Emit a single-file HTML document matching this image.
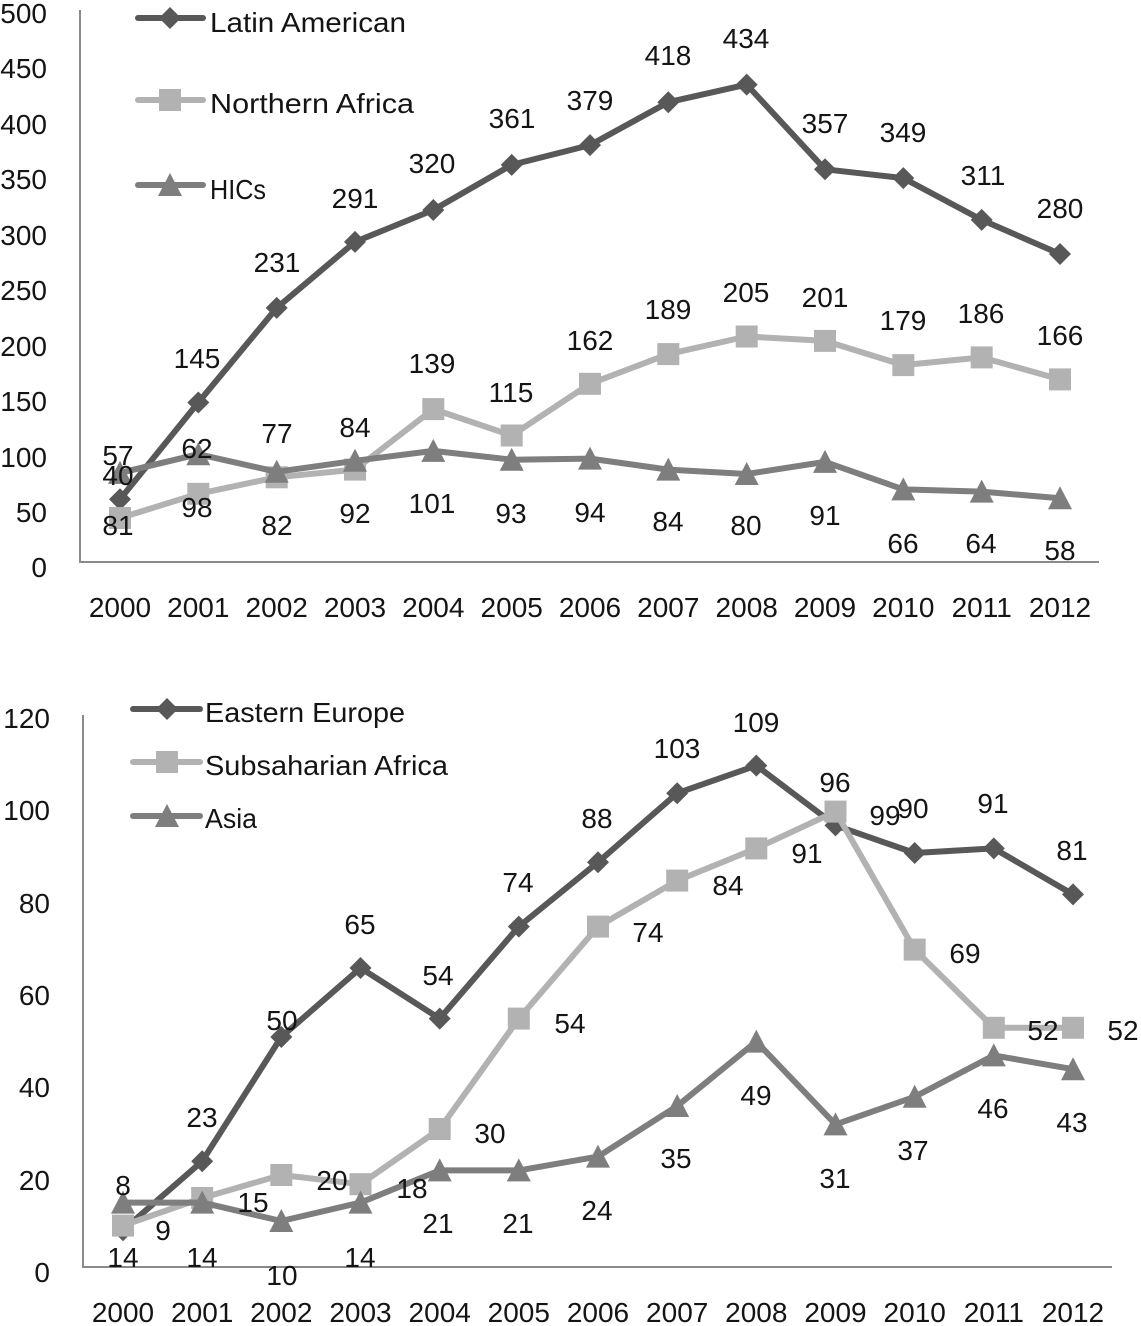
<!DOCTYPE html>
<html>
<head>
<meta charset="utf-8">
<style>
html,body{margin:0;padding:0;background:#fff;}
svg{display:block;}
text{font-family:"Liberation Sans",Arial,sans-serif;font-size:28px;fill:#141414;}
.c{text-anchor:middle;}
.r{text-anchor:end;}
</style>
</head>
<body>
<svg width="1141" height="1326" viewBox="0 0 1141 1326" xmlns="http://www.w3.org/2000/svg">
<defs>
<path id="dia" d="M0,-11 L11,0 L0,11 L-11,0Z"/>
<rect id="sq" x="-11" y="-11" width="22" height="22"/>
<path id="tri" d="M0,-12 L12,11 L-12,11Z"/>
</defs>

<!-- ================= TOP CHART ================= -->
<g stroke="#8a8a8a" stroke-width="2" fill="none">
<line x1="80" y1="10" x2="80" y2="562"/>
<line x1="79" y1="562" x2="1099" y2="562"/>
</g>
<g class="r">
<text class="r" x="47" y="23">500</text>
<text class="r" x="47" y="78">450</text>
<text class="r" x="47" y="134">400</text>
<text class="r" x="47" y="189">350</text>
<text class="r" x="47" y="245">300</text>
<text class="r" x="47" y="300">250</text>
<text class="r" x="47" y="356">200</text>
<text class="r" x="47" y="411">150</text>
<text class="r" x="47" y="467">100</text>
<text class="r" x="47" y="522">50</text>
<text class="r" x="47" y="577">0</text>
</g>
<g>
<text class="c" x="120" y="617">2000</text>
<text class="c" x="198.3" y="617">2001</text>
<text class="c" x="276.7" y="617">2002</text>
<text class="c" x="355" y="617">2003</text>
<text class="c" x="433.3" y="617">2004</text>
<text class="c" x="511.7" y="617">2005</text>
<text class="c" x="590" y="617">2006</text>
<text class="c" x="668.3" y="617">2007</text>
<text class="c" x="746.7" y="617">2008</text>
<text class="c" x="825" y="617">2009</text>
<text class="c" x="903.3" y="617">2010</text>
<text class="c" x="981.7" y="617">2011</text>
<text class="c" x="1060" y="617">2012</text>
</g>

<!-- Latin American -->
<polyline fill="none" stroke="#585858" stroke-width="6" stroke-linejoin="round" points="120,499.3 198.3,402.5 276.7,307.9 355,241.9 433.3,210 511.7,164.9 590,145.1 668.3,102.2 746.7,84.6 825,169.3 903.3,178.1 981.7,219.9 1060,254"/>
<g fill="#585858">
<use href="#dia" x="120" y="499.3"/><use href="#dia" x="198.3" y="402.5"/><use href="#dia" x="276.7" y="307.9"/><use href="#dia" x="355" y="241.9"/><use href="#dia" x="433.3" y="210"/><use href="#dia" x="511.7" y="164.9"/><use href="#dia" x="590" y="145.1"/><use href="#dia" x="668.3" y="102.2"/><use href="#dia" x="746.7" y="84.6"/><use href="#dia" x="825" y="169.3"/><use href="#dia" x="903.3" y="178.1"/><use href="#dia" x="981.7" y="219.9"/><use href="#dia" x="1060" y="254"/>
</g>
<!-- Northern Africa -->
<polyline fill="none" stroke="#b2b2b2" stroke-width="6" stroke-linejoin="round" points="120,518 198.3,493.8 276.7,477.3 355,469.6 433.3,409.1 511.7,435.5 590,383.8 668.3,354.1 746.7,336.5 825,340.9 903.3,365.1 981.7,357.4 1060,379.4"/>
<g fill="#b2b2b2">
<use href="#sq" x="120" y="518"/><use href="#sq" x="198.3" y="493.8"/><use href="#sq" x="276.7" y="477.3"/><use href="#sq" x="355" y="469.6"/><use href="#sq" x="433.3" y="409.1"/><use href="#sq" x="511.7" y="435.5"/><use href="#sq" x="590" y="383.8"/><use href="#sq" x="668.3" y="354.1"/><use href="#sq" x="746.7" y="336.5"/><use href="#sq" x="825" y="340.9"/><use href="#sq" x="903.3" y="365.1"/><use href="#sq" x="981.7" y="357.4"/><use href="#sq" x="1060" y="379.4"/>
</g>
<!-- HICs -->
<polyline fill="none" stroke="#7e7e7e" stroke-width="6" stroke-linejoin="round" points="120,472.9 198.3,454.2 276.7,471.8 355,460.8 433.3,450.9 511.7,459.7 590,458.6 668.3,469.6 746.7,474 825,461.9 903.3,489.4 981.7,491.6 1060,498.2"/>
<g fill="#7e7e7e">
<use href="#tri" x="120" y="472.9"/><use href="#tri" x="198.3" y="454.2"/><use href="#tri" x="276.7" y="471.8"/><use href="#tri" x="355" y="460.8"/><use href="#tri" x="433.3" y="450.9"/><use href="#tri" x="511.7" y="459.7"/><use href="#tri" x="590" y="458.6"/><use href="#tri" x="668.3" y="469.6"/><use href="#tri" x="746.7" y="474"/><use href="#tri" x="825" y="461.9"/><use href="#tri" x="903.3" y="489.4"/><use href="#tri" x="981.7" y="491.6"/><use href="#tri" x="1060" y="498.2"/>
</g>

<!-- top data labels -->
<g>
<text class="c" x="118" y="465">57</text>
<text class="c" x="197" y="368">145</text>
<text class="c" x="277" y="272">231</text>
<text class="c" x="355" y="208">291</text>
<text class="c" x="432" y="173">320</text>
<text class="c" x="512" y="128">361</text>
<text class="c" x="590" y="110">379</text>
<text class="c" x="668" y="65">418</text>
<text class="c" x="746" y="48">434</text>
<text class="c" x="825" y="133">357</text>
<text class="c" x="903" y="142">349</text>
<text class="c" x="983" y="185">311</text>
<text class="c" x="1060" y="218">280</text>

<text class="c" x="118" y="485">40</text>
<text class="c" x="197" y="458">62</text>
<text class="c" x="277" y="443">77</text>
<text class="c" x="355" y="437">84</text>
<text class="c" x="432" y="373">139</text>
<text class="c" x="511" y="402">115</text>
<text class="c" x="590" y="350">162</text>
<text class="c" x="668" y="319">189</text>
<text class="c" x="746" y="302">205</text>
<text class="c" x="825" y="307">201</text>
<text class="c" x="903" y="330">179</text>
<text class="c" x="981" y="323">186</text>
<text class="c" x="1060" y="345">166</text>

<text class="c" x="118" y="535">81</text>
<text class="c" x="197" y="517">98</text>
<text class="c" x="277" y="535">82</text>
<text class="c" x="355" y="523">92</text>
<text class="c" x="432" y="513">101</text>
<text class="c" x="511" y="523">93</text>
<text class="c" x="590" y="522">94</text>
<text class="c" x="668" y="531">84</text>
<text class="c" x="746" y="535">80</text>
<text class="c" x="825" y="525">91</text>
<text class="c" x="903" y="553">66</text>
<text class="c" x="981" y="553">64</text>
<text class="c" x="1060" y="560">58</text>
</g>

<!-- top legend -->
<line x1="138" y1="18" x2="203" y2="18" stroke="#585858" stroke-width="6" stroke-linecap="round"/>
<use href="#dia" x="170" y="18" fill="#585858"/>
<text x="210" y="32" textLength="196" lengthAdjust="spacingAndGlyphs">Latin American</text>
<line x1="138" y1="100" x2="203" y2="100" stroke="#b2b2b2" stroke-width="6" stroke-linecap="round"/>
<use href="#sq" x="170" y="100" fill="#b2b2b2"/>
<text x="210" y="113" textLength="204" lengthAdjust="spacingAndGlyphs">Northern Africa</text>
<line x1="138" y1="185" x2="203" y2="185" stroke="#7e7e7e" stroke-width="6" stroke-linecap="round"/>
<use href="#tri" x="170" y="185" fill="#7e7e7e"/>
<text x="210" y="199" textLength="56" lengthAdjust="spacingAndGlyphs">HICs</text>

<!-- ================= BOTTOM CHART ================= -->
<g stroke="#8a8a8a" stroke-width="2" fill="none">
<line x1="83" y1="715" x2="83" y2="1267"/>
<line x1="82" y1="1267" x2="1112" y2="1267"/>
</g>
<g>
<text class="r" x="50" y="728">120</text>
<text class="r" x="50" y="820">100</text>
<text class="r" x="50" y="913">80</text>
<text class="r" x="50" y="1005">60</text>
<text class="r" x="50" y="1097">40</text>
<text class="r" x="50" y="1190">20</text>
<text class="r" x="50" y="1282">0</text>
</g>
<g>
<text class="c" x="123" y="1322">2000</text>
<text class="c" x="202.2" y="1322">2001</text>
<text class="c" x="281.3" y="1322">2002</text>
<text class="c" x="360.5" y="1322">2003</text>
<text class="c" x="439.7" y="1322">2004</text>
<text class="c" x="518.8" y="1322">2005</text>
<text class="c" x="598" y="1322">2006</text>
<text class="c" x="677.2" y="1322">2007</text>
<text class="c" x="756.3" y="1322">2008</text>
<text class="c" x="835.5" y="1322">2009</text>
<text class="c" x="914.7" y="1322">2010</text>
<text class="c" x="993.8" y="1322">2011</text>
<text class="c" x="1073" y="1322">2012</text>
</g>

<!-- Eastern Europe -->
<polyline fill="none" stroke="#585858" stroke-width="6" stroke-linejoin="round" points="123,1230.2 202.2,1161.2 281.3,1037 360.5,968 439.7,1018.6 518.8,926.6 598,862.2 677.2,793.2 756.3,765.6 835.5,825.4 914.7,853 993.8,848.4 1073,894.4"/>
<g fill="#585858">
<use href="#dia" x="123" y="1230.2"/><use href="#dia" x="202.2" y="1161.2"/><use href="#dia" x="281.3" y="1037"/><use href="#dia" x="360.5" y="968"/><use href="#dia" x="439.7" y="1018.6"/><use href="#dia" x="518.8" y="926.6"/><use href="#dia" x="598" y="862.2"/><use href="#dia" x="677.2" y="793.2"/><use href="#dia" x="756.3" y="765.6"/><use href="#dia" x="835.5" y="825.4"/><use href="#dia" x="914.7" y="853"/><use href="#dia" x="993.8" y="848.4"/><use href="#dia" x="1073" y="894.4"/>
</g>
<!-- Subsaharian Africa -->
<polyline fill="none" stroke="#b2b2b2" stroke-width="6" stroke-linejoin="round" points="123,1225.6 202.2,1198 281.3,1175 360.5,1184.2 439.7,1129 518.8,1018.6 598,926.6 677.2,880.6 756.3,848.4 835.5,811.6 914.7,949.6 993.8,1027.8 1073,1027.8"/>
<g fill="#b2b2b2">
<use href="#sq" x="123" y="1225.6"/><use href="#sq" x="202.2" y="1198"/><use href="#sq" x="281.3" y="1175"/><use href="#sq" x="360.5" y="1184.2"/><use href="#sq" x="439.7" y="1129"/><use href="#sq" x="518.8" y="1018.6"/><use href="#sq" x="598" y="926.6"/><use href="#sq" x="677.2" y="880.6"/><use href="#sq" x="756.3" y="848.4"/><use href="#sq" x="835.5" y="811.6"/><use href="#sq" x="914.7" y="949.6"/><use href="#sq" x="993.8" y="1027.8"/><use href="#sq" x="1073" y="1027.8"/>
</g>
<!-- Asia -->
<polyline fill="none" stroke="#7e7e7e" stroke-width="6" stroke-linejoin="round" points="123,1202.6 202.2,1202.6 281.3,1221 360.5,1202.6 439.7,1170.4 518.8,1170.4 598,1156.6 677.2,1106 756.3,1041.6 835.5,1124.4 914.7,1096.8 993.8,1055.4 1073,1069.2"/>
<g fill="#7e7e7e">
<use href="#tri" x="123" y="1202.6"/><use href="#tri" x="202.2" y="1202.6"/><use href="#tri" x="281.3" y="1221"/><use href="#tri" x="360.5" y="1202.6"/><use href="#tri" x="439.7" y="1170.4"/><use href="#tri" x="518.8" y="1170.4"/><use href="#tri" x="598" y="1156.6"/><use href="#tri" x="677.2" y="1106"/><use href="#tri" x="756.3" y="1041.6"/><use href="#tri" x="835.5" y="1124.4"/><use href="#tri" x="914.7" y="1096.8"/><use href="#tri" x="993.8" y="1055.4"/><use href="#tri" x="1073" y="1069.2"/>
</g>

<!-- bottom data labels -->
<g>
<text class="c" x="123" y="1195">8</text>
<text class="c" x="202" y="1127">23</text>
<text class="c" x="282" y="1030">50</text>
<text class="c" x="360" y="934">65</text>
<text class="c" x="438" y="985">54</text>
<text class="c" x="518" y="892">74</text>
<text class="c" x="597" y="828">88</text>
<text class="c" x="677" y="758">103</text>
<text class="c" x="756" y="732">109</text>
<text class="c" x="835" y="792">96</text>
<text class="c" x="913" y="818">90</text>
<text class="c" x="993" y="813">91</text>
<text class="c" x="1072" y="860">81</text>

<text class="c" x="163" y="1240">9</text>
<text class="c" x="253" y="1212">15</text>
<text class="c" x="332" y="1190">20</text>
<text class="c" x="412" y="1198">18</text>
<text class="c" x="490" y="1143">30</text>
<text class="c" x="570" y="1033">54</text>
<text class="c" x="648" y="942">74</text>
<text class="c" x="728" y="895">84</text>
<text class="c" x="807" y="863">91</text>
<text class="c" x="885" y="825">99</text>
<text class="c" x="965" y="963">69</text>
<text class="c" x="1043" y="1040">52</text>
<text class="c" x="1123" y="1040">52</text>

<text class="c" x="123" y="1267">14</text>
<text class="c" x="202" y="1267">14</text>
<text class="c" x="282" y="1285">10</text>
<text class="c" x="360" y="1267">14</text>
<text class="c" x="438" y="1233">21</text>
<text class="c" x="518" y="1233">21</text>
<text class="c" x="597" y="1220">24</text>
<text class="c" x="676" y="1168">35</text>
<text class="c" x="756" y="1105">49</text>
<text class="c" x="835" y="1188">31</text>
<text class="c" x="913" y="1160">37</text>
<text class="c" x="993" y="1118">46</text>
<text class="c" x="1072" y="1132">43</text>
</g>

<!-- bottom legend -->
<line x1="133" y1="709" x2="200" y2="709" stroke="#585858" stroke-width="6" stroke-linecap="round"/>
<use href="#dia" x="167" y="709" fill="#585858"/>
<text x="205" y="722" textLength="200" lengthAdjust="spacingAndGlyphs">Eastern Europe</text>
<line x1="133" y1="762" x2="200" y2="762" stroke="#b2b2b2" stroke-width="6" stroke-linecap="round"/>
<use href="#sq" x="167" y="762" fill="#b2b2b2"/>
<text x="205" y="775" textLength="243" lengthAdjust="spacingAndGlyphs">Subsaharian Africa</text>
<line x1="133" y1="816" x2="200" y2="816" stroke="#7e7e7e" stroke-width="6" stroke-linecap="round"/>
<use href="#tri" x="167" y="816" fill="#7e7e7e"/>
<text x="205" y="828" textLength="52" lengthAdjust="spacingAndGlyphs">Asia</text>
</svg>
</body>
</html>
